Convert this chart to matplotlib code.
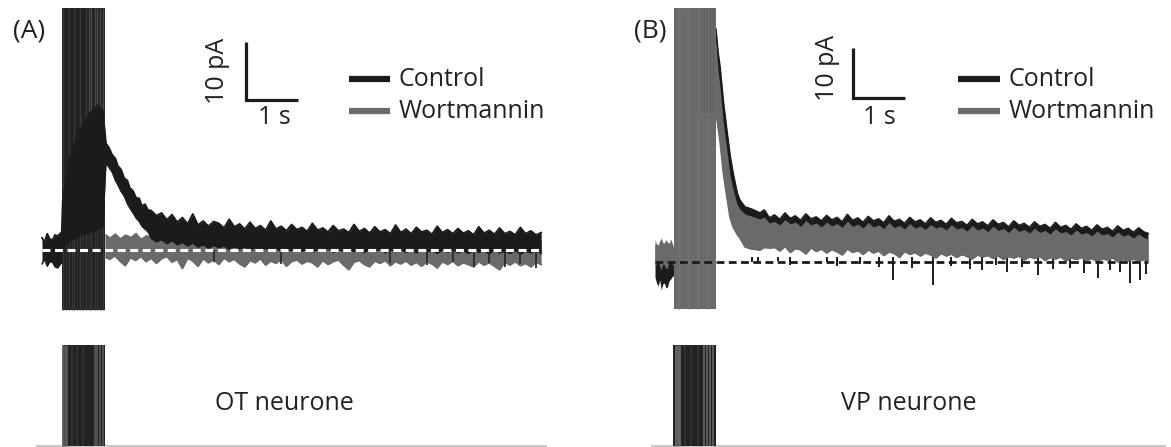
import matplotlib
matplotlib.use("Agg")
import matplotlib.pyplot as plt
from matplotlib.lines import Line2D
import numpy as np

plt.rcParams['font.family'] = ['Open Sans', 'DejaVu Sans']

# ---------------- data (seconds, pA) ----------------
# ---- Panel A (OT neurone) ----
tA_ctrl_head = [0.00, 0.05, 0.10, 0.15, 0.20, 0.25, 0.30, 0.38, 0.40, 0.54, 0.73, 0.92, 1.08, 1.17,
                1.23, 1.29, 1.35, 1.41, 1.46, 1.52, 1.58, 1.64, 1.69, 1.75, 1.81, 1.87, 1.92, 1.98, 2.04]
ctrlA_hi_head = [2.1, 1.4, 2.8, 1.9, 1.7, 2.6, 2.4, 3.1, 8.6, 16.0, 20.7, 23.6, 25.0, 24.0,
                 18.4, 17.6, 16.4, 15.8, 14.5, 13.9, 12.4, 12.0, 10.7, 10.2, 9.0, 8.9, 7.6, 7.9, 6.9]
ctrlA_lo_head = [-2.4, -1.6, -2.8, -2.0, -2.1, -2.9, -3.1, -2.1, 0.5, 1.5, 2.5, 3.0, 3.5, 4.0,
                 15.0, 14.2, 13.4, 12.0, 11.2, 10.1, 9.3, 8.0, 7.2, 6.4, 5.5, 4.9, 4.1, 3.6, 3.1]
tA_tail = np.round(np.arange(2.1, 9.65, 0.1), 2)   # sampling grid of the tail
ctrlA_hi_tail = [6.8, 5.9, 6.4, 5.2, 6.1, 4.8, 5.6, 4.5, 6.2, 4.3,
                 5.0, 4.1, 4.9, 4.6, 3.8, 5.3, 4.0, 4.5, 3.6, 4.8,
                 3.7, 4.2, 3.4, 5.0, 3.6, 4.1, 3.3, 4.4, 3.5, 3.9,
                 3.2, 4.6, 3.4, 3.8, 3.1, 4.2, 3.3, 3.6, 3.0, 4.4,
                 3.2, 3.7, 2.9, 4.0, 3.1, 3.5, 2.8, 4.3, 3.0, 3.6,
                 2.8, 3.9, 3.1, 3.4, 2.7, 4.1, 3.0, 3.5, 2.8, 3.7,
                 2.9, 3.3, 2.6, 4.0, 2.9, 3.4, 2.7, 3.8, 2.8, 3.2,
                 2.6, 3.9, 2.8, 3.3, 2.6, 3.0]
ctrlA_lo_tail = [2.0, 1.4, 1.8, 1.1, 1.6, 0.9, 1.3, 0.7, 1.2, 0.5,
                 0.9, 0.3, 0.8, 0.4, 0.7, 0.1, 0.6, 0.2, 0.5, 0.0,
                 0.4, -0.1, 0.3, 0.0, 0.4, -0.3, 0.2, -0.1, 0.3, -0.2,
                 0.2, -0.3, 0.1, -0.1, 0.3, -0.4, 0.1, -0.2, 0.2, -0.3,
                 0.0, -0.4, 0.1, -0.2, 0.2, -0.5, 0.0, -0.3, 0.1, -0.4,
                 0.0, -0.5, 0.1, -0.3, -0.1, -0.6, 0.0, -0.4, 0.1, -0.5,
                 -0.1, -0.6, 0.0, -0.4, -0.1, -0.7, 0.0, -0.5, -0.2, -0.6,
                 -0.1, -0.7, -0.2, -0.5, -0.1, -0.6]
tA_wort = np.round(np.concatenate([[1.21], np.arange(1.3, 9.65, 0.1)]), 2)
wortA_hi = [2.9,
            2.3, 3.0, 2.2, 2.8, 2.4, 3.1, 2.1, 2.7, 2.3, 2.9,
            2.0, 2.6, 2.2, 2.8, 1.9, 2.5, 2.1, 2.7, 1.8, 2.4,
            2.0, 2.3, 1.8, 2.5, 1.9, 2.2, 1.7, 2.4, 2.0, 2.1,
            1.8, 2.3, 1.9, 2.2, 1.7, 2.4, 1.8, 2.1, 1.6, 2.3,
            1.9, 2.0, 1.7, 2.2, 1.8, 2.1, 1.6, 2.3, 1.8, 2.0,
            1.7, 2.1, 1.6, 2.2, 1.8, 1.9, 1.5, 2.1, 1.7, 2.0,
            1.6, 2.1, 1.7, 1.9, 1.5, 2.0, 1.6, 1.9, 1.5, 2.1,
            1.7, 1.8, 1.5, 2.0, 1.6, 1.9, 1.4, 1.8, 1.6, 1.9,
            1.5, 1.8, 1.4, 1.7]
wortA_lo = [-1.2,
            -1.6, -1.0, -1.9, -2.7, -1.3, -1.8, -1.1, -2.0, -1.4, -2.3,
            -1.5, -1.1, -2.1, -1.6, -3.2, -1.4, -1.9, -2.8, -1.5, -2.2,
            -1.7, -2.5, -1.4, -2.0, -1.6, -2.4, -2.9, -1.8, -2.2, -1.5,
            -2.6, -1.9, -2.3, -1.6, -2.8, -2.0, -1.7, -2.4, -1.9, -2.2,
            -2.9, -1.8, -2.5, -2.0, -1.7, -2.6, -3.4, -2.1, -1.8, -2.5,
            -2.9, -1.9, -2.3, -1.8, -2.7, -2.0, -2.4, -1.9, -2.6, -2.1,
            -2.8, -2.0, -2.4, -3.1, -2.0, -2.5, -1.9, -2.7, -2.2, -2.5,
            -2.9, -2.0, -2.6, -2.2, -2.8, -3.4, -2.1, -2.6, -2.0, -2.7,
            -2.3, -2.9, -2.1, -2.5]
ctrlA_spike_t = [3.30, 4.60, 6.70, 7.40, 7.90, 8.30, 8.60, 8.90, 9.20, 9.50]
ctrlA_spike_min = [-2.0, -2.4, -2.2, -2.6, -2.0, -3.0, -2.3, -3.0, -2.4, -3.1]
stimA = (0.38, 1.21)          # stimulation train (s)
stimA_range = (-10.3, 41.7)   # artefact extent (pA)
traceA_span = (0.0, 9.60)

# ---- Panel B (VP neurone) ----
tB_head = [0.00, 0.03, 0.06, 0.09, 0.12, 0.15, 0.18, 0.21, 0.24, 0.27, 0.30, 0.34, 0.37,
           1.17, 1.21, 1.25, 1.31, 1.38, 1.44, 1.50, 1.58, 1.63, 1.73, 1.85, 2.02, 2.10, 2.20]
ctrlB_hi_head = [3.6, 2.9, 2.4, 3.3, 3.0, 2.2, 1.8, 2.7, 2.6, 3.4, 3.2, 2.5, 2.0,
                 46.6, 42.0, 39.0, 32.4, 26.4, 21.5, 17.8, 13.8, 12.4, 11.0, 10.6, 9.8, 10.4, 8.8]
ctrlB_lo_pre = [-3.0, -4.2, -4.8, -3.6, -5.6, -4.4, -4.2, -5.2, -5.0, -3.8, -3.4, -2.8, -2.6]
wortB_hi_head = [4.4, 3.6, 3.4, 4.2, 4.8, 3.9, 3.8, 4.5, 4.0, 3.7, 4.6, 3.5, 2.4,
                 44.0, 38.5, 35.0, 28.0, 22.5, 17.5, 14.5, 11.5, 10.6, 9.6, 9.2, 8.6, 9.0, 7.8]
wortB_lo_head = [-1.0, -0.2, 0.2, -0.9, -1.6, -0.4, -0.6, -1.3, -1.2, 0.1, 0.0, -0.5, -0.8,
                 30.0, 27.0, 24.0, 18.0, 13.0, 9.0, 7.0, 5.5, 4.8, 3.0, 2.6, 2.4, 2.9, 2.8]
tB_tail = np.round(np.concatenate([np.arange(2.3, 9.45, 0.1), [9.48]]), 2)
ctrlB_hi_tail = [9.4, 8.5, 9.8, 8.7, 9.2, 8.3, 9.6, 8.6, 9.0, 8.2,
                 9.3, 8.4, 8.9, 8.0, 9.5, 8.3, 8.8, 7.9, 9.1, 8.2,
                 8.6, 7.8, 9.2, 8.1, 8.5, 7.7, 8.9, 8.0, 8.4, 7.6,
                 8.8, 7.9, 8.3, 7.5, 8.7, 7.8, 8.1, 7.3, 8.5, 7.6,
                 8.0, 7.2, 8.4, 7.5, 7.9, 7.0, 8.2, 7.3, 7.7, 6.9,
                 8.0, 7.1, 7.5, 6.7, 7.9, 6.9, 7.3, 6.5, 7.6, 6.7,
                 7.1, 6.3, 7.4, 6.5, 6.9, 6.1, 7.2, 6.3, 6.7, 5.9,
                 6.8, 6.0, 5.7]
wortB_hi_tail = [8.1, 7.4, 8.5, 7.6, 8.0, 7.1, 8.3, 7.4, 7.8, 7.0,
                 8.0, 7.2, 7.7, 6.9, 8.2, 7.1, 7.6, 6.8, 7.9, 7.0,
                 7.4, 6.7, 7.9, 6.9, 7.3, 6.6, 7.7, 6.8, 7.2, 6.5,
                 7.5, 6.8, 7.1, 6.4, 7.5, 6.6, 6.9, 6.2, 7.3, 6.4,
                 6.8, 6.1, 7.2, 6.3, 6.7, 5.9, 7.0, 6.1, 6.5, 5.8,
                 6.8, 5.9, 6.3, 5.6, 6.7, 5.8, 6.1, 5.4, 6.4, 5.6,
                 5.9, 5.2, 6.2, 5.4, 5.7, 5.0, 6.0, 5.2, 5.5, 4.8,
                 5.6, 4.9, 4.6]
wortB_lo_tail = [2.9, 2.2, 3.1, 1.9, 2.7, 2.4, 1.6, 2.8, 2.1, 2.6,
                 1.8, 2.5, 2.0, 1.4, 2.6, 1.9, 2.3, 1.5, 2.4, 1.8,
                 2.2, 1.3, 2.0, 1.7, 0.9, 2.1, 1.5, 1.9, 1.2, 1.8,
                 1.4, 0.8, 1.7, 1.2, 1.6, 0.9, 1.5, 1.1, 0.6, 1.4,
                 1.0, 1.3, 0.7, 1.2, 0.5, 1.1, 0.8, 1.2, 0.4, 1.0,
                 0.7, 1.1, 0.3, 0.9, 0.6, 1.0, 0.2, 0.8, 0.5, 0.9,
                 0.3, 0.7, 0.1, 0.6, 0.4, 0.8, 0.0, 0.5, 0.2, 0.6,
                 0.1, 0.5, 0.3]
ctrlB_spike_t = [1.87, 1.98, 2.37, 2.60, 3.31, 3.50, 3.94, 4.30, 4.58, 4.95, 5.35, 5.70, 6.05, 6.29,
                 6.55, 6.77, 7.05, 7.37, 7.65, 7.98, 8.25, 8.52, 8.75, 8.94, 9.13, 9.33, 9.45]
ctrlB_spike_min = [0.0, -0.2, 0.2, -0.5, 0.0, -0.8, -0.3, -1.0, -3.6, -1.2, -4.6, -0.8, -1.4, -1.6,
                   -0.6, -2.0, -1.0, -2.6, -1.4, -1.2, -2.2, -3.2, -1.6, -2.0, -4.2, -3.6, -2.4]
stimB = (0.365, 1.17)
stimB_range = (-9.4, 50.8)
traceB_span = (0.0, 9.48)

# stimulus-train striations (s)
stimA_stripes = [0.41, 0.46, 0.51, 0.57, 0.62, 0.68, 0.73, 0.79, 0.84, 0.90, 0.95, 1.01, 1.06, 1.12, 1.17]
stimB_stripes = [0.40, 0.46, 0.52, 0.58, 0.64, 0.70, 0.76, 0.82, 0.88, 0.94, 1.00, 1.06, 1.12]

legend_labels = ['Control', 'Wortmannin']
panel_titles = ['OT neurone', 'VP neurone']
panel_letters = ['(A)', '(B)']

# ---------------- layout ----------------
W, H = 1171, 447
fig = plt.figure(figsize=(W / 100, H / 100), dpi=100)
CTRL = '#1b1b1b'
WORT = '#6a6a6a'
TXT = '#222222'


def px_axes(x0, y0, x1, y1):
    ax = fig.add_axes([x0 / W, 1 - y1 / H, (x1 - x0) / W, (y1 - y0) / H])
    ax.set_axis_off()
    return ax


def fx(x):
    return x / W


def fy(y):
    return 1 - y / H


def trace_axes(x0, x1, orig_x, base_y, pps, ppa):
    ax = px_axes(x0, 0, x1, 330)
    ax.set_xlim((x0 - orig_x) / pps, (x1 - orig_x) / pps)
    ax.set_ylim((base_y - 330) / ppa, base_y / ppa)
    return ax


def stim_axes(x0, x1, orig_x, pps):
    ax = px_axes(x0, 335, x1, 447)
    ax.set_xlim((x0 - orig_x) / pps, (x1 - orig_x) / pps)
    ax.set_ylim(-1 / 101, 111 / 101)
    return ax


axA = trace_axes(30, 580, 42, 250, 52, 5.8)
axB = trace_axes(640, 1171, 655, 262, 52, 5.0)
sA = stim_axes(30, 580, 42, 52)
sB = stim_axes(640, 1171, 655, 52)

# ----- Panel A -----
tA_ctrl = np.concatenate([tA_ctrl_head, tA_tail])
ctrlA_hi = np.concatenate([ctrlA_hi_head, ctrlA_hi_tail])
ctrlA_lo = np.concatenate([ctrlA_lo_head, ctrlA_lo_tail])

axA.fill_between(stimA, stimA_range[0], stimA_range[1], color='#222222', lw=0, zorder=1)
axA.vlines(stimA_stripes[::2], stimA_range[0], stimA_range[1], color='#383838', lw=1.0, zorder=1.1)
axA.vlines(stimA_stripes[1::2], stimA_range[0], 4, color='#333333', lw=0.8, zorder=1.1)
axA.vlines(stimA_stripes[-6:], 22, stimA_range[1], color='#4a4a4a', lw=0.9, zorder=1.2)
axA.fill_between(tA_wort, wortA_lo, wortA_hi, color=WORT, lw=0, zorder=2)
axA.plot(tA_wort, wortA_lo, color=WORT, lw=1.3, zorder=2)
axA.fill_between(tA_ctrl, ctrlA_lo, ctrlA_hi, color=CTRL, lw=0, zorder=3)
axA.plot(tA_ctrl, ctrlA_hi, color=CTRL, lw=1.3, zorder=3)
axA.plot(tA_ctrl, ctrlA_lo, color=CTRL, lw=1.0, zorder=3)
axA.vlines(ctrlA_spike_t, 0, ctrlA_spike_min, color='#2a2a2a', lw=1.3, zorder=3)
axA.plot(traceA_span, [0, 0], color='white', lw=2.2, dashes=(2.6, 1.5), zorder=4)
sbA = (3.92, 25.86)
axA.plot([sbA[0], sbA[0], sbA[0] + 1], [sbA[1] + 10, sbA[1], sbA[1]], color=CTRL, lw=2.3,
         solid_joinstyle='miter', solid_capstyle='butt')

# ----- Panel B -----
tB = np.concatenate([tB_head, tB_tail])
ctrlB_hi = np.concatenate([ctrlB_hi_head, ctrlB_hi_tail])
wortB_hi = np.concatenate([wortB_hi_head, wortB_hi_tail])
wortB_lo = np.concatenate([wortB_lo_head, wortB_lo_tail])
npre = len(ctrlB_lo_pre)

# control: its lower envelope is hidden under the wortmannin trace after the train
axB.fill_between(tB_head[:npre], ctrlB_lo_pre, ctrlB_hi_head[:npre], color=CTRL, lw=0, zorder=2)
axB.fill_between(tB[npre:], wortB_lo[npre:], ctrlB_hi[npre:], color=CTRL, lw=0, zorder=2)
axB.plot(tB[npre:], ctrlB_hi[npre:], color=CTRL, lw=1.3, zorder=2)
axB.vlines(ctrlB_spike_t, 1.0, ctrlB_spike_min, color=CTRL, lw=1.4, zorder=2)
axB.fill_between(tB, wortB_lo, wortB_hi, color=WORT, lw=0, zorder=3)
axB.plot(tB[npre:], wortB_lo[npre:], color=WORT, lw=1.1, zorder=3)
axB.fill_between(stimB, stimB_range[0], stimB_range[1], color='#6b6b6b', lw=0, zorder=4)
axB.vlines(stimB_stripes[1::3], stimB_range[0], stimB_range[1], color='#747474', lw=1.0, zorder=4.1)
axB.vlines(stimB_stripes[-4:], 30, stimB_range[1], color='#5e5e5e', lw=0.9, zorder=4.2)
axB.plot(traceB_span, [0, 0], color=CTRL, lw=2.0, dashes=(2.8, 1.6), zorder=5)
sbB = (3.81, 32.8)
axB.plot([sbB[0], sbB[0], sbB[0] + 1], [sbB[1] + 10, sbB[1], sbB[1]], color=CTRL, lw=2.3,
         solid_joinstyle='miter', solid_capstyle='butt')

# ----- stimulus channel -----
for ax, stim, stripes, span, light in ((sA, (0.40, 1.21), stimA_stripes, (-0.10, 9.69), '#5a5a5a'),
                                       (sB, (0.35, 1.17), stimB_stripes, (-0.06, 9.81), '#666666')):
    ax.plot(span, [0, 0], color='#c8c8c8', lw=1.5, zorder=1)
    ax.bar((stim[0] + stim[1]) / 2, 1, width=stim[1] - stim[0], bottom=0, color='#222222', lw=0, zorder=2)
    ax.vlines(stripes[:2], 0, 1, color=light, lw=2.0, zorder=3)
    ax.vlines(stripes[-4:], 0, 1, color=light, lw=1.2, zorder=3)
    ax.vlines(stripes[3:8:2], 0, 1, color='#333333', lw=1.2, zorder=3)

# ----- text -----
FS = 18
FW = 'normal'
for letter, x in zip(panel_letters, (29, 650)):
    fig.text(fx(x), fy(31), letter, fontsize=19, color=TXT, ha='center', va='center', fontweight=FW)
for (xv, yv), (xs, ys) in (((218, 71), (274, 118)), ((828, 68), (879, 117))):
    fig.text(fx(xv), fy(yv), '10 pA', fontsize=FS, color=TXT, rotation=90, ha='center', va='center',
             fontweight=FW)
    fig.text(fx(xs), fy(ys), '1 s', fontsize=FS, color=TXT, ha='center', va='center', fontweight=FW)
for (lx0, lx1, tx) in ((349, 390, 399), (958, 1000, 1009)):
    for lab, col, yy in zip(legend_labels, (CTRL, WORT), (79, 111)):
        fig.add_artist(Line2D([fx(lx0), fx(lx1)], [fy(yy), fy(yy)], color=col, lw=4.5,
                              solid_capstyle='butt', transform=fig.transFigure))
        fig.text(fx(tx), fy(yy), lab, fontsize=FS, color=TXT, ha='left', va='center', fontweight=FW)
for title, x in zip(panel_titles, (284, 909)):
    fig.text(fx(x), fy(403), title, fontsize=FS, color=TXT, ha='center', va='center', fontweight=FW)

fig.savefig('out.png', dpi=100, facecolor='white')
